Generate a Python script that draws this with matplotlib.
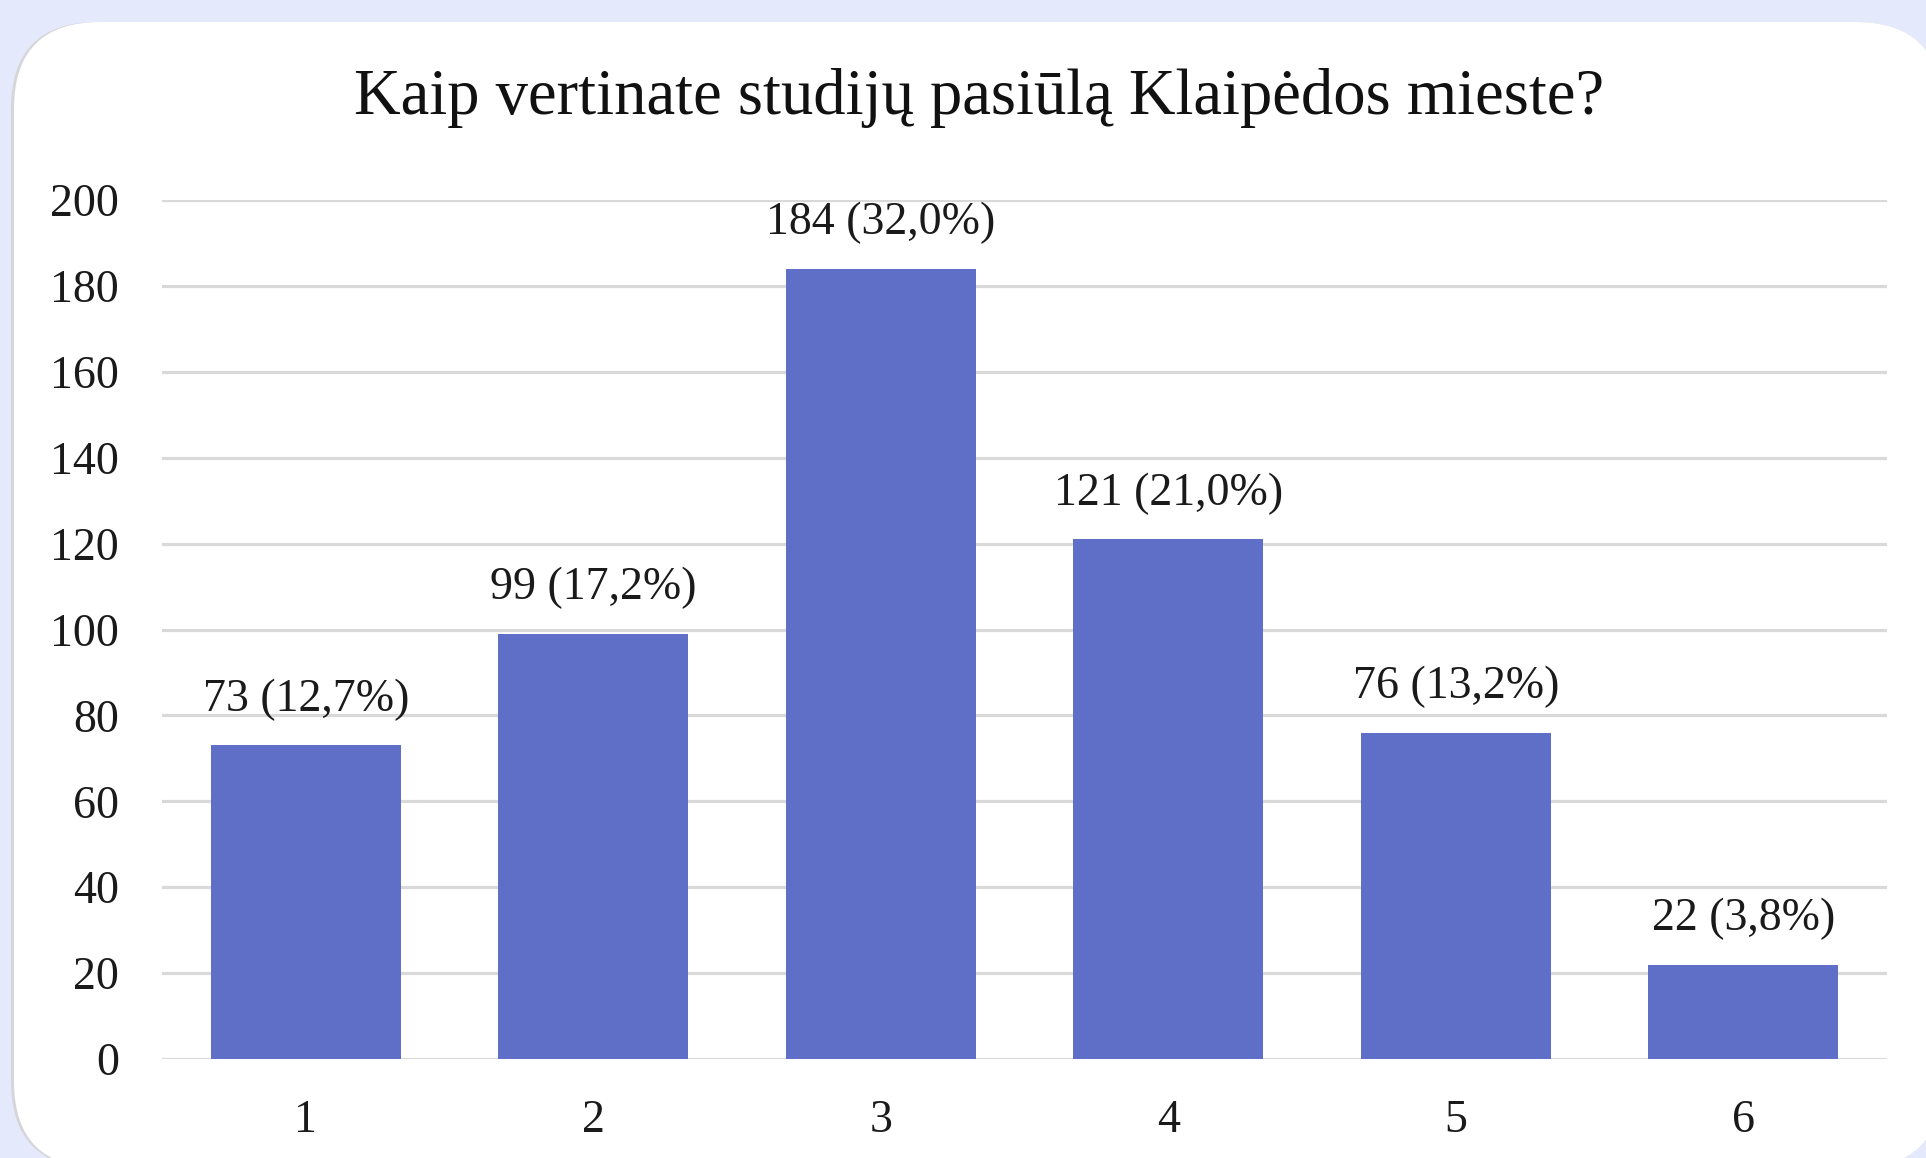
import matplotlib
matplotlib.use('Agg')
import matplotlib.pyplot as plt
from matplotlib.patches import FancyBboxPatch

# survey answers (rating 1..6) and counts
categories = ['1', '2', '3', '4', '5', '6']
counts = [73, 99, 184, 121, 76, 22]
percents = ['12,7', '17,2', '32,0', '21,0', '13,2', '3,8']
title = 'Kaip vertinate studijų pasiūlą Klaipėdos mieste?'

W, H = 1926, 1158
plt.rcParams['font.family'] = ['Liberation Serif', 'DejaVu Serif']

fig = plt.figure(figsize=(W / 100, H / 100), dpi=100)
fig.patch.set_facecolor('#e4e9fb')

# white card (grey edge on the left), right edge just past the image
def card_patch(x0, color):
    return FancyBboxPatch((x0 / W, -10 / H), (1942 - x0) / W, (H + 10 - 22) / H,
                          boxstyle='round,pad=0.0,rounding_size=0.045',
                          mutation_aspect=W / H, transform=fig.transFigure,
                          facecolor=color, edgecolor='none', zorder=-2)

fig.patches.append(card_patch(11, '#d6d6da'))
fig.patches.append(card_patch(14, 'white'))

ax = fig.add_axes([162 / W, 1 - 1059 / H, (1887 - 162) / W, (1059 - 200) / H])
ax.set_facecolor('none')

x = range(len(categories))
ax.bar(x, counts, width=0.66, color='#5f6ec7', zorder=3)

for i, (c, p) in enumerate(zip(counts, percents)):
    ax.annotate(f'{c} ({p}%)', (i, c), xytext=(0, 33), textcoords='offset points',
                ha='center', va='center', fontsize=33, color='#1a1a1a')

ax.set_xlim(-0.5, len(categories) - 0.5)
ax.set_ylim(0, 200)
ax.set_yticks(range(0, 201, 20))
ax.set_xticks(list(x))
ax.set_xticklabels(categories)
ax.tick_params(axis='both', length=0, labelsize=33, colors='#1a1a1a')
ax.tick_params(axis='y', pad=31)
ax.tick_params(axis='x', pad=29)
ax.grid(axis='y', color='#d9d9d9', linewidth=2.3, zorder=0)
for s in ax.spines.values():
    s.set_visible(False)

fig.text(979 / W, 1 - 98 / H, title, ha='center', va='center', fontsize=46.5, color='#111111')

fig.savefig('out.png', dpi=100, facecolor=fig.get_facecolor())
